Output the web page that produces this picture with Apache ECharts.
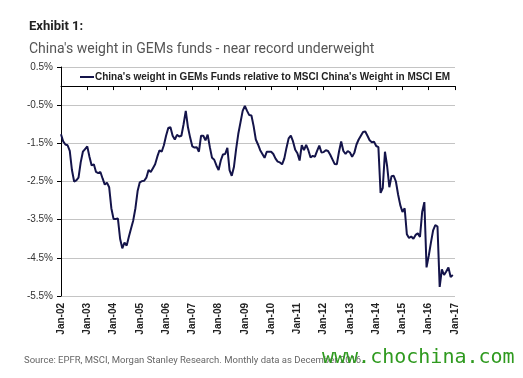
<!DOCTYPE html>
<html>
<head>
<meta charset="utf-8">
<script src="https://cdn.jsdelivr.net/npm/echarts@6/dist/echarts.min.js"></script>
<style>
  html, body { margin: 0; padding: 0; background: #fff; }
  #main { width: 523px; height: 378px; }
</style>
</head>
<body>
<div id="main"></div>
<script>
// monthly data Jan-02 .. Dec-16, axis runs to Jan-17
const years = ['02', '03', '04', '05', '06', '07', '08', '09', '10', '11', '12', '13', '14', '15', '16']
const months = ['Jan', 'Feb', 'Mar', 'Apr', 'May', 'Jun', 'Jul', 'Aug', 'Sep', 'Oct', 'Nov', 'Dec']
const lastLabel = 'Jan-17'

// China's weight in GEMs funds relative to MSCI China's weight in MSCI EM (%)
const weightGap = [
  -1.26, -1.45, -1.53, -1.55, -1.70, -2.20, -2.50, -2.47, -2.40, -2.00, -1.72, -1.65, // 2002
  -1.58, -1.85, -2.08, -2.05, -2.25, -2.28, -2.25, -2.42, -2.58, -2.53, -2.65, -3.20, // 2003
  -3.48, -3.48, -3.47, -4.00, -4.25, -4.10, -4.18, -3.95, -3.73, -3.52, -3.20, -2.75, // 2004
  -2.52, -2.49, -2.48, -2.40, -2.20, -2.25, -2.15, -2.05, -1.85, -1.68, -1.72, -1.55, // 2005
  -1.30, -1.10, -1.08, -1.30, -1.40, -1.28, -1.32, -1.30, -1.00, -0.65, -1.08, -1.35, // 2006
  -1.58, -1.61, -1.60, -1.72, -1.30, -1.30, -1.42, -1.27, -1.60, -1.88, -1.93, -2.08, // 2007
  -2.20, -1.95, -1.79, -1.78, -1.62, -2.20, -2.35, -2.12, -1.65, -1.25, -0.95, -0.65, // 2008
  -0.52, -0.65, -0.76, -0.77, -1.05, -1.40, -1.53, -1.68, -1.78, -1.88, -1.72, -1.72, // 2009
  -1.72, -1.78, -1.90, -1.98, -2.00, -2.05, -1.90, -1.62, -1.37, -1.30, -1.45, -1.67, // 2010
  -1.76, -1.95, -1.55, -1.68, -1.54, -1.68, -1.87, -1.83, -1.85, -1.70, -1.56, -1.74, // 2011
  -1.73, -1.68, -1.70, -1.80, -1.92, -2.04, -2.05, -1.72, -1.45, -1.70, -1.78, -1.70, // 2012
  -1.74, -1.85, -1.75, -1.53, -1.40, -1.30, -1.20, -1.19, -1.30, -1.42, -1.47, -1.46, // 2013
  -1.57, -1.60, -2.80, -2.67, -1.72, -2.10, -2.65, -2.36, -2.35, -2.50, -2.84, -3.12, // 2014
  -3.30, -3.20, -3.88, -3.98, -3.94, -4.00, -3.90, -3.86, -3.95, -3.30, -3.04, -4.75, // 2015
  -4.45, -4.10, -3.78, -3.64, -3.68, -5.26, -4.80, -4.95, -4.86, -4.75, -5.00, -4.95 // 2016
]

const yTicks = [0.5, -0.5, -1.5, -2.5, -3.5, -4.5, -5.5]

let categories = []
years.forEach(y => {
  months.forEach(m => categories.push(m + '-' + y))
})
categories.push(lastLabel)

const seriesName = "China's weight in GEMs Funds relative to MSCI China's Weight in MSCI EM"

const chart = echarts.init(document.getElementById('main'))

chart.setOption({
  animation: false,
  textStyle: { fontFamily: 'Liberation Sans' },
  title: [
    {
      text: 'Exhibit 1:',
      left: 24,
      top: 15,
      textStyle: { fontSize: 13, fontWeight: 'bold', color: '#222', fontFamily: 'Roboto' }
    },
    {
      text: "China's weight in GEMs funds - near record underweight",
      left: 24,
      top: 37,
      textStyle: { fontSize: 14, fontWeight: 'normal', color: '#555', fontFamily: 'Roboto' }
    }
  ],
  legend: {
    left: 75,
    top: 67,
    icon: 'rect',
    itemWidth: 14,
    itemHeight: 2,
    itemGap: 0,
    data: [seriesName],
    textStyle: { fontSize: 10, fontWeight: 'bold', color: '#222', padding: [0, 0, 0, -4] }
  },
  grid: {
    left: 61,
    right: 68,
    top: 67,
    bottom: 82
  },
  xAxis: [
    {
      // axis line sitting on 0%
      type: 'category',
      data: categories,
      boundaryGap: false,
      position: 'bottom',
      axisLine: { onZero: true, lineStyle: { color: '#000', width: 1 } },
      axisTick: { show: true, interval: 11, length: 4, lineStyle: { color: '#000' } },
      axisLabel: { show: false },
      splitLine: { show: false }
    },
    {
      // labels at the bottom
      type: 'category',
      data: categories,
      boundaryGap: false,
      position: 'bottom',
      axisLine: { show: false, onZero: false },
      axisTick: { show: false },
      axisLabel: {
        interval: 11,
        rotate: 90,
        margin: 7,
        fontSize: 10,
        fontWeight: 'bold',
        color: '#222'
      },
      splitLine: { show: false }
    }
  ],
  yAxis: {
    type: 'value',
    min: -5.5,
    max: 0.5,
    axisLine: { show: true, lineStyle: { color: '#000', width: 1 } },
    axisTick: { show: true, length: 4, customValues: yTicks, lineStyle: { color: '#000' } },
    axisLabel: {
      customValues: yTicks,
      margin: 8,
      fontSize: 10,
      color: '#333',
      formatter: v => v.toFixed(1) + '%'
    },
    splitLine: { show: true, lineStyle: { color: '#c4c4c4', width: 1 } }
  },
  series: [
    {
      name: seriesName,
      type: 'line',
      xAxisIndex: 0,
      data: weightGap,
      symbol: 'none',
      lineStyle: { color: '#14144a', width: 2 },
      itemStyle: { color: '#14144a' }
    }
  ],
  graphic: [
    {
      type: 'text',
      left: 24,
      top: 356,
      style: {
        text: 'Source: EPFR, MSCI, Morgan Stanley Research. Monthly data as December 2016.',
        fontSize: 9.5,
        fill: '#666',
        fontFamily: 'Roboto'
      }
    },
    {
      type: 'text',
      left: 322,
      top: 348,
      style: {
        text: 'www.chochina.com',
        fontSize: 20,
        fill: '#2f9a1f',
        fontFamily: 'DejaVu Sans Mono'
      }
    }
  ]
})
</script>
</body>
</html>
